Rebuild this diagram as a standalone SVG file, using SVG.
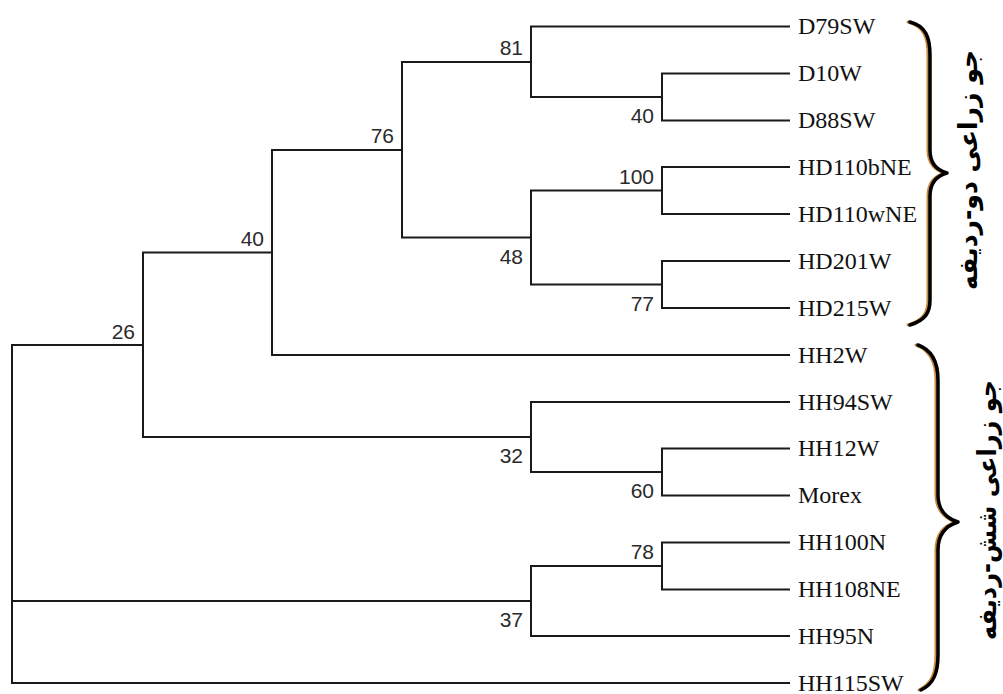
<svg xmlns="http://www.w3.org/2000/svg" width="1003" height="694" viewBox="0 0 1003 694">
<style>
.br{fill:none;stroke:#1a1a1a;stroke-width:2}
.leaf{font-family:"Liberation Serif","Times New Roman",serif;font-size:24px;fill:#111}
.bs{font-family:"Liberation Sans",Arial,sans-serif;font-size:21px;fill:#2a2a2a;text-anchor:end}
.brace{fill:none;stroke:#000;stroke-width:3.5;stroke-linecap:round;stroke-linejoin:round}
.braceS{fill:none;stroke:#c98a3e;stroke-width:3;stroke-linecap:round;stroke-linejoin:round}
.fa{font-family:"DejaVu Sans","Noto Sans",sans-serif;font-size:26px;font-weight:bold;fill:#000;text-anchor:middle;dominant-baseline:central}
</style>
<rect width="1003" height="694" fill="#fff"/>
<g id="connectors">
<path class="br" d="M790,73.5 H662 V120.5 H790"/>
<path class="br" d="M790,26.5 H531 V97 H662"/>
<path class="br" d="M790,167 H662 V214 H790"/>
<path class="br" d="M790,261 H662 V308 H790"/>
<path class="br" d="M662,190.5 H531 V284.5 H662"/>
<path class="br" d="M531,62 H402 V237.5 H531"/>
<path class="br" d="M402,150 H272 V355 H790"/>
<path class="br" d="M790,448.5 H662 V495.5 H790"/>
<path class="br" d="M790,402 H531 V472 H662"/>
<path class="br" d="M272,252.5 H143 V437 H531"/>
<path class="br" d="M790,542.5 H662 V589.5 H790"/>
<path class="br" d="M662,566 H531 V636 H790"/>
<path class="br" d="M143,345 H12 V683 H790"/>
<path class="br" d="M12,601 H531"/>
</g>
<g id="leaves">
<text class="leaf" x="798" y="34">D79SW</text>
<text class="leaf" x="798" y="81">D10W</text>
<text class="leaf" x="798" y="128">D88SW</text>
<text class="leaf" x="798" y="174.5">HD110bNE</text>
<text class="leaf" x="798" y="221.5">HD110wNE</text>
<text class="leaf" x="798" y="268.5">HD201W</text>
<text class="leaf" x="798" y="315.5">HD215W</text>
<text class="leaf" x="798" y="362.5">HH2W</text>
<text class="leaf" x="798" y="409.5">HH94SW</text>
<text class="leaf" x="798" y="456">HH12W</text>
<text class="leaf" x="798" y="503">Morex</text>
<text class="leaf" x="798" y="550">HH100N</text>
<text class="leaf" x="798" y="597">HH108NE</text>
<text class="leaf" x="798" y="643.5">HH95N</text>
<text class="leaf" x="798" y="690.5">HH115SW</text>
</g>
<g id="bootstrap">
<text class="bs" x="523" y="55">81</text>
<text class="bs" x="394" y="143">76</text>
<text class="bs" x="264" y="245.5">40</text>
<text class="bs" x="135" y="338.5">26</text>
<text class="bs" x="654" y="184">100</text>
<text class="bs" x="654" y="559">78</text>
<text class="bs" x="654" y="123">40</text>
<text class="bs" x="523" y="263.5">48</text>
<text class="bs" x="654" y="310.5">77</text>
<text class="bs" x="523" y="463">32</text>
<text class="bs" x="654" y="498">60</text>
<text class="bs" x="523" y="627">37</text>
</g>
<g id="group-two-row">
<path class="braceS" d="M908,22 C924,26 928,38 928,55 L928,150 C928,162 934,170 945,173 C934,176 928,184 928,196 L928,300 C928,312 924,320 908,325"/>
<path class="brace" d="M910,22 C926,26 930,38 930,55 L930,150 C930,162 936,170 947,173 C936,176 930,184 930,196 L930,300 C930,312 926,320 910,325"/>
<text class="fa" transform="translate(968,170) rotate(-90)" textLength="240" lengthAdjust="spacingAndGlyphs">جو زراعی دو-ردیفه</text>
</g>
<g id="group-six-row">
<path class="braceS" d="M916,345 C930,350 936,362 936,380 L936,495 C936,508 943,518 956,522 C943,526 936,536 936,550 L936,655 C936,672 932,684 919,690"/>
<path class="brace" d="M918,345 C932,350 938,362 938,380 L938,495 C938,508 945,518 958,522 C945,526 938,536 938,550 L938,655 C938,672 934,684 921,690"/>
<text class="fa" transform="translate(987,510) rotate(-90)" textLength="260" lengthAdjust="spacingAndGlyphs">جو زراعی شش-ردیفه</text>
</g>
</svg>
